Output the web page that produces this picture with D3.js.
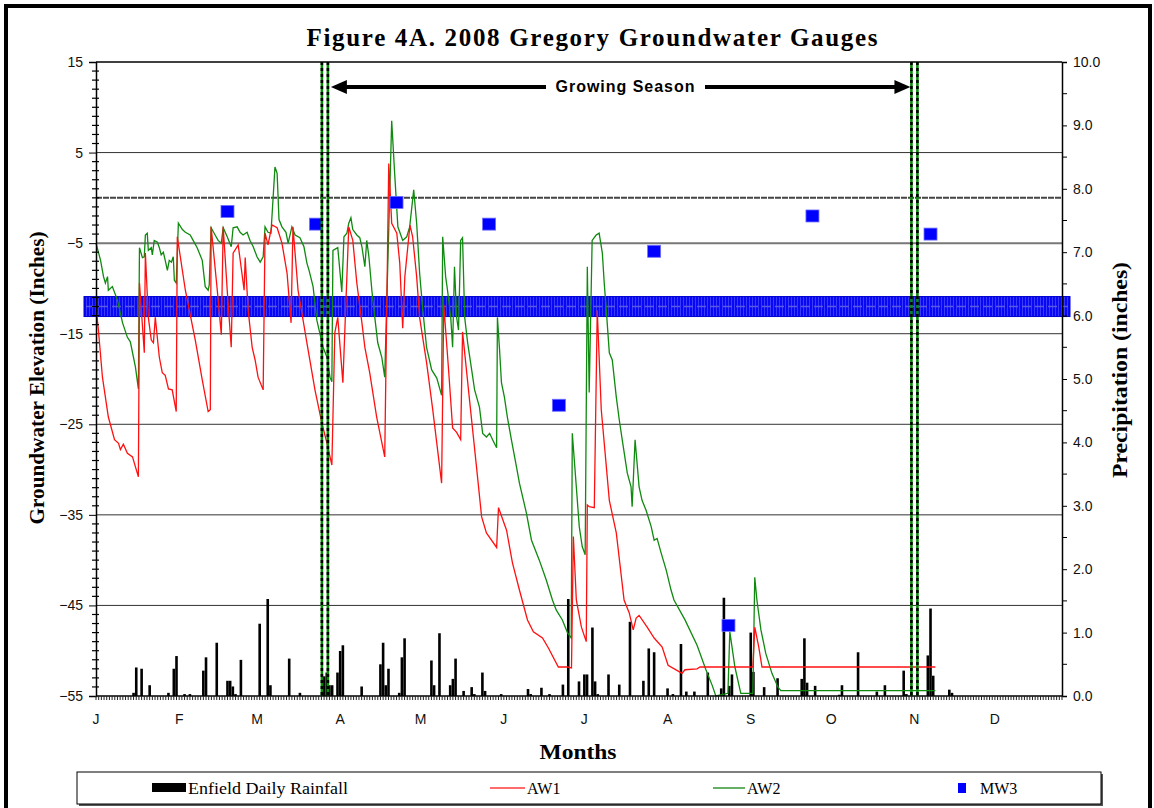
<!DOCTYPE html>
<html>
<head>
<meta charset="utf-8">
<script src="https://cdn.jsdelivr.net/npm/d3@7"></script>
<style>
  body { margin: 0; background: #fff; }
  svg { display: block; }
</style>
</head>
<body>
<div id="chart"></div>
<script>
// ---- data (day = days since Jan 1 2008) ----
const monthLabels = ["J", "F", "M", "A", "M", "J", "J", "A", "S", "O", "N", "D"];
const monthStarts = [0, 31, 60, 91, 121, 152, 182, 213, 244, 274, 305, 335];
const leftTicks = [15, 5, -5, -15, -25, -35, -45, -55];
const gridValues = [5, -5, -15, -25, -35, -45];
const groundSurface = 0;
const wetlandThreshold = -12;
const growingSeason = [85.3, 305];

const aw1 = [
  [0, -12], [0.9, -14.6], [2.4, -19.8], [4.6, -24.2], [6.9, -26.7], [8.4, -27.1], [9.1, -27.8],
  [10.2, -27.2], [11.7, -28.2], [13.6, -28.6], [15.8, -30.8], [16.2, -9.4], [18, -17.1],
  [18.4, -6.1], [19.5, -13.2], [20.6, -15.7], [21.4, -16], [22.1, -13.2], [23.6, -17.6],
  [24.7, -19.3], [25.8, -19.6], [27, -21.1], [28.4, -21.2], [29.9, -23.6], [30.3, -4.3],
  [33.3, -10.2], [37, -15.7], [39.6, -20.1], [41.8, -23.6], [42.6, -23.4], [42.9, -3.2],
  [45.2, -10.2], [46.7, -15.1], [47.4, -3.2], [48.9, -10.2], [50.4, -16.5], [51.1, -6.1],
  [53, -5.2], [55.2, -10.2], [55.6, -6.6], [56.7, -12.4], [58.2, -16.5], [59.3, -17.9],
  [60.4, -19.8], [62.3, -21.2], [63, -3.9], [64.1, -5.2], [65.6, -3], [67.5, -3.3],
  [69.3, -5], [71.2, -8.3], [72.7, -13.8], [73.4, -3.2], [75.3, -10.2], [78.6, -16],
  [81.6, -21.2], [84.2, -24.9], [86.1, -27.1], [87.9, -29.5], [89, -14.9], [90.1, -13.2],
  [92, -20.4], [94.2, -3.2], [95.7, -4.7], [97.2, -9.4], [99.1, -13.8], [100.2, -16.5],
  [102, -19.3], [104.6, -24.2], [107.6, -28.6], [109.1, 3.8], [110.2, -2.8], [112.1, -3.9],
  [113.2, -7.2], [114.3, -14.4], [115.1, -8.7], [117, -3], [118, -4.3], [119.5, -8.7],
  [120.6, -13.2], [123.2, -18.2], [125.5, -23.4], [128.8, -31.5], [129.6, -11.8], [131.4, -19],
  [132.9, -25.4], [134.4, -25.9], [135.9, -26.7], [136.6, -14.8], [139.2, -22.3], [141.8, -29.7],
  [143.7, -35.2], [145.5, -37], [149.3, -38.6], [150, -34.2], [153, -36.7], [155.2, -40.3],
  [157.8, -43.3], [160.8, -46.6], [163, -47.9], [166.4, -48.6], [168.6, -49.7], [172.3, -51.8],
  [175.7, -51.8], [177.2, -51.9], [177.9, -37.4], [179, -44.4], [180.9, -47.4], [182.7, -49],
  [183.1, -33.9], [183.8, -34.1], [185.7, -34.2], [186.8, -12.4], [188.3, -23.4], [191.3, -33.4],
  [193.9, -37], [196.8, -44.4], [198.7, -45.8], [200.2, -47.7], [201.3, -46.4], [202.4, -46.1],
  [205.4, -47.4], [208, -48.6], [211, -49.6], [213.2, -51.6], [218.4, -52.5], [219.5, -52.1],
  [224, -52], [225.1, -51.8], [244.8, -51.8], [245.5, -47.4], [247, -49.6], [248.2, -51.8],
  [312.8, -51.8]
];

const aw2 = [
  [0, -5], [1.7, -6.9], [2.8, -8.7], [3.5, -9.4], [4.3, -8.7], [4.6, -10.2], [6.1, -9.8],
  [8, -11.3], [9.9, -13.8], [11.7, -15.4], [12.8, -15.9], [14.7, -18.7], [15.8, -21.1],
  [16.2, -5.5], [17.3, -6.6], [18, -6.5], [18.4, -4.1], [19.1, -3.9], [19.5, -5.8], [20.6, -5.5],
  [21, -6.3], [21.7, -4.7], [22.9, -4.9], [23.6, -5.5], [24.3, -6.3], [25.1, -6], [25.8, -6.9],
  [26.6, -8], [27.3, -6.9], [28.1, -7.1], [28.8, -6.5], [29.2, -9.1], [29.9, -9.4], [30.7, -2.8],
  [32.2, -3.5], [33.3, -3.8], [35.1, -4.1], [36.2, -4.7], [37.7, -5.5], [39.6, -6.9], [40.7, -9.8],
  [41.8, -10.2], [42.2, -9.6], [42.9, -3.3], [44.4, -4.1], [45.5, -4.7], [46.7, -5], [47.4, -3.3],
  [48.9, -4.3], [50.4, -5.4], [51.1, -3.3], [52.6, -3.2], [53.7, -3.8], [54.8, -4.1], [56.3, -3.8],
  [57.4, -4.7], [58.6, -5.4], [60, -6.5], [61.2, -7.1], [62.3, -6.5], [63, -3.2], [64.1, -3.8],
  [65.2, -3.9], [66.7, 3.4], [67.5, 2.7], [68.2, -2.4], [69.3, -3.2], [70.8, -3.8], [71.6, -5],
  [73, -3.2], [74.2, -4.1], [76, -4.4], [77.5, -5.4], [78.6, -7.2], [79.4, -8], [80.9, -9.8],
  [82.3, -13.5], [84.6, -16.5], [86.1, -17.6], [87.2, -19.8], [87.9, -20.3], [88.3, -5.8],
  [90.1, -5.5], [91.3, -9.4], [91.6, -10.4], [92.4, -4.3], [93.5, -3.9], [94.2, -2.8], [95, -2.2],
  [95.7, -3.5], [97.2, -4.1], [98.3, -4.4], [99.1, -5.4], [100.2, -7.6], [100.9, -4.7],
  [101.7, -6.5], [102.8, -10.2], [103.9, -13.2], [105, -16], [106.5, -17.6], [107.6, -19.8],
  [110.2, 8.5], [111.3, 2.7], [112.5, -3.2], [114.3, -4.7], [115.8, -4.3], [116.9, -3.2],
  [118.4, 0.9], [119.5, -2.8], [120.6, -8.3], [121.7, -12.1], [123.2, -16.5], [125.1, -19],
  [127, -19.9], [128.8, -21.8], [129.2, -4.3], [130.3, -8.7], [131, -10.2], [132.2, -13.2],
  [132.9, -16.5], [133.6, -7.6], [134.4, -13.2], [135.1, -14.6], [135.9, -4.7], [136.6, -4.4],
  [137.4, -13.2], [138.5, -16], [140, -19], [141.1, -21.2], [142.9, -23.1], [144.1, -26],
  [145.5, -26.4], [146.7, -26], [147.8, -26.7], [149.3, -27.6], [149.6, -13.2], [150.4, -16.8],
  [151.1, -20.4], [152.2, -22], [153.3, -24.2], [154.8, -26.7], [156.7, -29.7], [157.8, -31.5],
  [160.4, -34.8], [162.3, -37.8], [165.2, -40], [167.8, -42.2], [170.1, -44.4], [171.5, -45.5],
  [173.8, -46.6], [175.7, -48], [177.1, -48.6], [177.5, -26], [179, -31.9], [180.1, -36.3],
  [181.2, -38.5], [182.3, -39.4], [183.1, -7.6], [183.8, -21.5], [184.9, -4.7], [186.4, -4.1],
  [187.5, -3.9], [188.7, -6.1], [189.4, -9.4], [190.1, -12.1], [191.3, -17.1], [192.4, -17.9],
  [193.9, -22], [195, -24.5], [196.1, -26.7], [198, -30.4], [199.4, -31.9], [199.8, -34.1],
  [200.9, -26.7], [202.4, -31.9], [203.5, -33.4], [205, -34.5], [206.9, -36.3], [208, -37.8],
  [209.1, -37.6], [210.6, -39.2], [212.5, -41.1], [214.3, -43.3], [215.4, -44.4], [219.5, -46.6],
  [224, -49.4], [227.3, -52.1], [229.6, -53.8], [231, -55], [235.5, -54.7], [236.2, -47.9],
  [238.1, -51.8], [240.3, -54.7], [244.8, -54.7], [245.5, -41.9], [246.3, -44.4], [247.8, -47.7],
  [249.6, -50.3], [251.9, -52.5], [254.1, -54], [255.2, -54.4], [312.8, -54.4]
];

const mw3 = [
  [49, -1.5], [82, -2.9], [112, -0.5], [146.5, -2.9], [172.5, -22.9],
  [208, -5.9], [235.7, -47.2], [267, -2], [311, -4]
];

const rainfall = [
  [14, 0.05], [15, 0.45], [17, 0.43], [20, 0.17], [27, 0.05], [29, 0.43], [30, 0.63], [33, 0.03],
  [35, 0.03], [40, 0.4], [41, 0.61], [45, 0.84], [49, 0.24], [50, 0.24], [51, 0.15], [52, 0.03],
  [54, 0.57], [61, 1.14], [64, 1.53], [65, 0.17], [72, 0.59], [76, 0.05], [85, 0.31], [86, 0.37],
  [87, 0.17], [88, 0.17], [90, 0.37], [91, 0.71], [92, 0.8], [99, 0.15], [106, 0.5], [107, 0.84],
  [108, 0.17], [109, 0.43], [113, 0.05], [114, 0.61], [115, 0.91], [125, 0.56], [126, 0.17],
  [128, 0.99], [132, 0.17], [133, 0.27], [134, 0.59], [137, 0.08], [140, 0.14], [141, 0.03],
  [144, 0.37], [145, 0.08], [151, 0.03], [161, 0.11], [162, 0.03], [166, 0.13], [169, 0.03],
  [174, 0.18], [176, 1.53], [180, 0.23], [182, 0.34], [183, 0.34], [185, 1.08], [186, 0.23],
  [187, 0.03], [191, 0.34], [195, 0.18], [199, 1.17], [204, 0.24], [206, 0.75], [208, 0.69],
  [213, 0.12], [215, 0.03], [218, 0.82], [220, 0.07], [223, 0.07], [228, 0.37], [233, 0.12],
  [234, 1.55], [236, 0.16], [237, 0.34], [244, 1.0], [245, 0.38], [249, 0.14], [254, 0.28],
  [263, 0.27], [264, 0.91], [265, 0.21], [268, 0.16], [277, 0.02], [278, 0.17], [284, 0.69],
  [291, 0.07], [294, 0.17], [301, 0.4], [302, 0.03], [310, 0.64], [311, 1.38], [312, 0.32],
  [318, 0.1], [319, 0.05]
];

// ---- layout ----
const W = 1154, H = 808;
const plotL = 96, plotR = 1062, plotT = 62, plotB = 696;
const serif = "'Liberation Serif', 'Times New Roman', serif";
const sans = "'Liberation Sans', Arial, sans-serif";

const x = d3.scaleLinear().domain([0, 360]).range([plotL, plotR]);
const yL = d3.scaleLinear().domain([-55, 15]).range([plotB, plotT]);
const yR = d3.scaleLinear().domain([0, 10]).range([plotB, plotT]);

const svg = d3.select("#chart").append("svg").attr("width", W).attr("height", H);

// outer frame
svg.append("rect")
  .attr("x", 6).attr("y", 6).attr("width", W - 10).attr("height", H + 20)
  .attr("fill", "none").attr("stroke", "#000").attr("stroke-width", 4);

// title
svg.append("text")
  .attr("x", 592).attr("y", 46)
  .attr("text-anchor", "middle")
  .attr("font-family", serif).attr("font-weight", "bold").attr("font-size", 25)
  .attr("textLength", 571).attr("lengthAdjust", "spacing")
  .text("Figure 4A.  2008 Gregory Groundwater Gauges");

// horizontal grid lines
svg.append("g").selectAll("line")
  .data(gridValues)
  .join("line")
  .attr("x1", plotL).attr("x2", plotR)
  .attr("y1", (d) => yL(d)).attr("y2", (d) => yL(d))
  .attr("stroke", (d) => (d === -5 ? "#777" : "#333"))
  .attr("stroke-width", (d) => (d === -5 ? 2 : 1));

// ground surface line
svg.append("line")
  .attr("x1", plotL).attr("x2", plotR)
  .attr("y1", yL(groundSurface)).attr("y2", yL(groundSurface))
  .attr("stroke", "#444").attr("stroke-width", 2).attr("stroke-dasharray", "6,1");

// rainfall bars (right axis)
svg.append("g").selectAll("rect")
  .data(rainfall)
  .join("rect")
  .attr("x", (d) => x(d[0]) - 1.3)
  .attr("width", 2.6)
  .attr("y", (d) => yR(d[1]))
  .attr("height", (d) => yR(0) - yR(d[1]))
  .attr("fill", "#000");

// wetland threshold band (-12 in)
const bandY = yL(wetlandThreshold);
const defs = svg.append("defs");
const pat = defs.append("pattern")
  .attr("id", "bandPat").attr("patternUnits", "userSpaceOnUse")
  .attr("width", 3).attr("height", 20).attr("y", bandY - 10);
pat.append("rect").attr("width", 3).attr("height", 20).attr("fill", "#0808f4");
pat.append("rect").attr("x", 2).attr("width", 1).attr("height", 20).attr("fill", "#3a3aff");
svg.append("rect")
  .attr("x", plotL - 12).attr("y", bandY - 10)
  .attr("width", plotR - plotL + 20).attr("height", 20)
  .attr("fill", "url(#bandPat)").attr("stroke", "#0000d0").attr("stroke-width", 1);
svg.append("line")
  .attr("x1", plotL - 10).attr("x2", plotR + 6)
  .attr("y1", bandY).attr("y2", bandY)
  .attr("stroke", "#5a5ae0").attr("stroke-width", 1.5).attr("stroke-dasharray", "9,4");

// groundwater lines
const line = d3.line().x((d) => x(d[0])).y((d) => yL(d[1]));
svg.append("path").datum(aw2)
  .attr("d", line).attr("fill", "none").attr("stroke", "#0f8a0f").attr("stroke-width", 1.3);
svg.append("path").datum(aw1)
  .attr("d", line).attr("fill", "none").attr("stroke", "#ff1010").attr("stroke-width", 1.3);

// MW3 points
svg.append("g").selectAll("rect")
  .data(mw3)
  .join("rect")
  .attr("x", (d) => x(d[0]) - 6.5).attr("y", (d) => yL(d[1]) - 6)
  .attr("width", 13).attr("height", 12)
  .attr("fill", "#0000ff").attr("stroke", "#6f6fff").attr("stroke-width", 0.8);

// growing season boundaries
growingSeason.forEach((d) => {
  [-3, 3].forEach((off) => {
    svg.append("line")
      .attr("x1", x(d) + off).attr("x2", x(d) + off)
      .attr("y1", plotT).attr("y2", plotB)
      .attr("stroke", "#0a8a0a").attr("stroke-width", 2.6);
    svg.append("line")
      .attr("x1", x(d) + off).attr("x2", x(d) + off)
      .attr("y1", plotT).attr("y2", plotB)
      .attr("stroke", "#000").attr("stroke-width", 2.6).attr("stroke-dasharray", "3,3");
  });
});

// growing season arrow
const arrowY = 87;
const gsLeft = x(growingSeason[0]) + 6, gsRight = x(growingSeason[1]) - 4;
svg.append("line").attr("x1", gsLeft + 14).attr("x2", 546).attr("y1", arrowY).attr("y2", arrowY)
  .attr("stroke", "#000").attr("stroke-width", 4);
svg.append("line").attr("x1", 705).attr("x2", gsRight - 14).attr("y1", arrowY).attr("y2", arrowY)
  .attr("stroke", "#000").attr("stroke-width", 4);
svg.append("path")
  .attr("d", `M${gsLeft},${arrowY} L${gsLeft + 16},${arrowY - 7} L${gsLeft + 16},${arrowY + 7} Z`)
  .attr("fill", "#000");
svg.append("path")
  .attr("d", `M${gsRight},${arrowY} L${gsRight - 16},${arrowY - 7} L${gsRight - 16},${arrowY + 7} Z`)
  .attr("fill", "#000");
svg.append("text")
  .attr("x", 625).attr("y", arrowY + 5)
  .attr("text-anchor", "middle")
  .attr("font-family", sans).attr("font-weight", "bold").attr("font-size", 16)
  .attr("textLength", 139).attr("lengthAdjust", "spacing")
  .text("Growing Season");

// plot frame (top + bottom)
svg.append("line").attr("x1", plotL).attr("x2", plotR).attr("y1", plotT).attr("y2", plotT)
  .attr("stroke", "#000").attr("stroke-width", 1.5);
svg.append("line").attr("x1", plotL).attr("x2", plotR).attr("y1", plotB).attr("y2", plotB)
  .attr("stroke", "#000").attr("stroke-width", 1.5);

// left axis
const leftAxis = d3.axisLeft(yL).tickValues(leftTicks).tickSize(7).tickPadding(6);
const gL = svg.append("g").attr("transform", `translate(${plotL},0)`).call(leftAxis);
gL.selectAll("text").attr("font-family", sans).attr("font-size", 14).attr("fill", "#111");
gL.select(".domain").attr("stroke-width", 1.5);
svg.append("g").selectAll("line")
  .data(d3.range(-55, 16, 1).filter((v) => !leftTicks.includes(v)))
  .join("line")
  .attr("x1", plotL - 4).attr("x2", plotL + 3)
  .attr("y1", (d) => yL(d)).attr("y2", (d) => yL(d))
  .attr("stroke", "#000").attr("stroke-width", 1.2);

// right axis
const rightAxis = d3.axisRight(yR).ticks(10).tickFormat(d3.format(".1f")).tickSize(5).tickPadding(6);
const gR = svg.append("g").attr("transform", `translate(${plotR},0)`).call(rightAxis);
gR.selectAll("text").attr("font-family", sans).attr("font-size", 14).attr("fill", "#111");
gR.select(".domain").attr("stroke-width", 1.5);
svg.append("g").selectAll("line")
  .data(d3.range(0.5, 10, 1))
  .join("line")
  .attr("x1", plotR).attr("x2", plotR + 5)
  .attr("y1", (d) => yR(d)).attr("y2", (d) => yR(d))
  .attr("stroke", "#000");

// bottom axis: daily ticks and month letters
svg.append("g").selectAll("line")
  .data(d3.range(0, 361, 1))
  .join("line")
  .attr("x1", (d) => x(d)).attr("x2", (d) => x(d))
  .attr("y1", plotB).attr("y2", plotB + 4)
  .attr("stroke", "#222").attr("stroke-width", 1);
svg.append("g").selectAll("text")
  .data(monthLabels)
  .join("text")
  .attr("x", (d, i) => x(monthStarts[i]))
  .attr("y", 724)
  .attr("text-anchor", "middle")
  .attr("font-family", sans).attr("font-size", 14).attr("fill", "#111")
  .text((d) => d);

// axis titles
svg.append("text")
  .attr("transform", "translate(44,378) rotate(-90)")
  .attr("text-anchor", "middle")
  .attr("font-family", serif).attr("font-weight", "bold").attr("font-size", 20)
  .attr("textLength", 293).attr("lengthAdjust", "spacingAndGlyphs")
  .text("Groundwater Elevation (Inches)");
svg.append("text")
  .attr("transform", "translate(1127,370) rotate(-90)")
  .attr("text-anchor", "middle")
  .attr("font-family", serif).attr("font-weight", "bold").attr("font-size", 20)
  .attr("textLength", 216).attr("lengthAdjust", "spacingAndGlyphs")
  .text("Precipitation (inches)");
svg.append("text")
  .attr("x", 578).attr("y", 759)
  .attr("text-anchor", "middle")
  .attr("font-family", serif).attr("font-weight", "bold").attr("font-size", 22)
  .attr("textLength", 77).attr("lengthAdjust", "spacingAndGlyphs")
  .text("Months");

// legend
const lg = svg.append("g");
lg.append("rect").attr("x", 79).attr("y", 774).attr("width", 1024).attr("height", 32)
  .attr("fill", "#555");
lg.append("rect").attr("x", 77).attr("y", 772).attr("width", 1024).attr("height", 32)
  .attr("fill", "#fff").attr("stroke", "#000").attr("stroke-width", 1);
lg.append("rect").attr("x", 152).attr("y", 783).attr("width", 34).attr("height", 9).attr("fill", "#000");
lg.append("line").attr("x1", 490).attr("x2", 525).attr("y1", 788).attr("y2", 788)
  .attr("stroke", "#ff6a6a").attr("stroke-width", 2);
lg.append("line").attr("x1", 713).attr("x2", 745).attr("y1", 788).attr("y2", 788)
  .attr("stroke", "#66b066").attr("stroke-width", 2);
lg.append("rect").attr("x", 958).attr("y", 783).attr("width", 8).attr("height", 10).attr("fill", "#0000ff");
const legendText = [
  ["Enfield Daily Rainfall", 188, 160],
  ["AW1", 527, 0],
  ["AW2", 747, 0],
  ["MW3", 980, 0]
];
legendText.forEach(([t, tx, len]) => {
  const el = lg.append("text").attr("x", tx).attr("y", 794)
    .attr("font-family", serif).attr("font-size", 16).text(t);
  if (len) el.attr("textLength", len).attr("lengthAdjust", "spacingAndGlyphs");
});
</script>
</body>
</html>
